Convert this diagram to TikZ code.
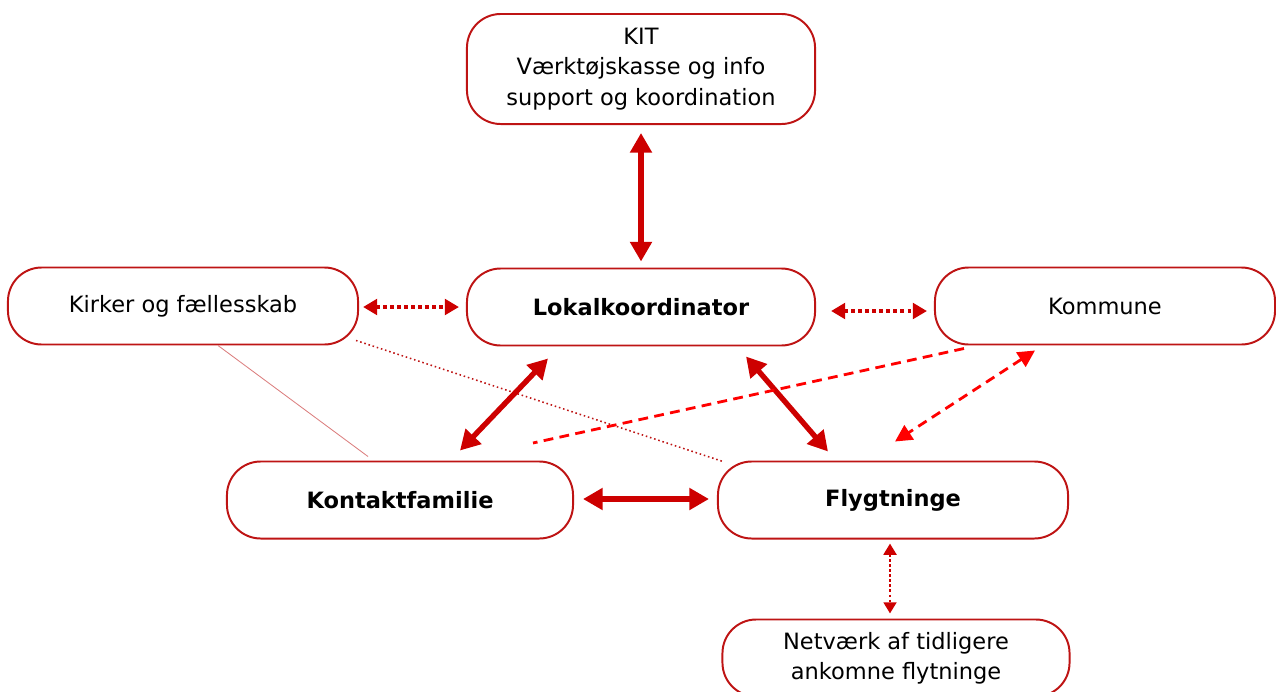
\documentclass[tikz,border=0pt]{standalone}
\usepackage{fontspec}
\setmainfont{DejaVu Sans}
\usetikzlibrary{arrows.meta,calc}
\definecolor{boxred}{RGB}{190,20,20}
\definecolor{arrred}{RGB}{205,0,0}
\definecolor{dashred}{RGB}{255,0,0}

\begin{document}
\begin{tikzpicture}[x=0.025cm,y=-0.025cm,
    box/.style={draw=boxred,line width=1.4pt,rounded corners=24pt,minimum width=8.7cm,minimum height=1.925cm,align=center,inner sep=0pt,font=\fontsize{16}{21.5}\selectfont},
    bold/.style={font=\fontsize{16}{21.5}\selectfont\bfseries},
    big/.style={draw=arrred,line width=3.8pt,{Triangle[length=14pt,width=15pt]}-{Triangle[length=14pt,width=15pt]}},
    dots/.style={draw=arrred,line width=2.8pt,dash pattern=on 2.8pt off 2.2pt,{Triangle[length=10pt,width=11pt]}-{Triangle[length=10pt,width=11pt]}},
    dashes/.style={draw=dashred,line width=2pt,dash pattern=on 7pt off 4.5pt}]
    \useasboundingbox (0,0) rectangle (1276,691);
    \node[box,minimum height=2.75cm] (kit) at (641,69) {KIT\\Værktøjskasse og info\\support og koordination};
    \node[box,minimum width=8.75cm] (kirker) at (183,306) {Kirker og fællesskab};
    \node[box,bold] (lokal) at (641,307) {Lokalkoordinator};
    \node[box,minimum width=8.5cm] (kommune) at (1105,306) {Kommune};
    \node[box,bold,minimum width=8.65cm] (kontakt) at (400,500) {Kontaktfamilie};
    \node[box,bold,minimum width=8.75cm] (flygt) at (893,500) {Flygtninge};
    \node[box,minimum width=8.675cm] (netv) at (896,658) {Netværk af tidligere\\ankomne flytninge};
    \coordinate (dashend) at (533,443);
    % thin lines from Kirker
    \draw[boxred!55,line width=0.6pt] ($(kirker.south)+(35,0)$) -- ($(kontakt.north)+(-32,-4)$);
    \draw[boxred,line width=1.1pt,dotted] ($(kirker.south east)+(-3,-5)$) -- ($(flygt.north west)+(6,1)$);
    % solid arrows
    \draw[big] ($(kit.south)+(0,8)$) -- ($(lokal.north)+(0,-6)$);
    \draw[big] ($(lokal.south)+(-93,12)$) -- ($(kontakt.north)+(60,-10)$);
    \draw[big] ($(lokal.south)+(105,10)$) -- ($(flygt.north)+(-65,-9)$);
    \draw[big] ($(kontakt.east)+(9,-1)$) -- ($(flygt.west)+(-8,-1)$);
    % dotted arrows
    \draw[dots] ($(kirker.east)+(4,1)$) -- ($(lokal.west)+(-7,0)$);
    \draw[dots] ($(lokal.east)+(15,4)$) -- ($(kommune.west)+(-7,5)$);
    \draw[dots,line width=2pt,dash pattern=on 2pt off 1.6pt,{Triangle[length=8pt,width=9pt]}-{Triangle[length=8pt,width=9pt]}] ($(flygt.south)+(-3,4)$) -- ($(netv.north)+(-6,-5)$);
    % dashed lines to Kommune
    \draw[dashes] ($(kommune.south west)+(30,3)$) -- (dashend);
    \draw[dashes,{Triangle[length=12pt,width=12pt]}-{Triangle[length=12pt,width=12pt]}] ($(kommune.south)+(-70,5)$) -- ($(flygt.north)+(2,-19)$);
\end{tikzpicture}
\end{document}
